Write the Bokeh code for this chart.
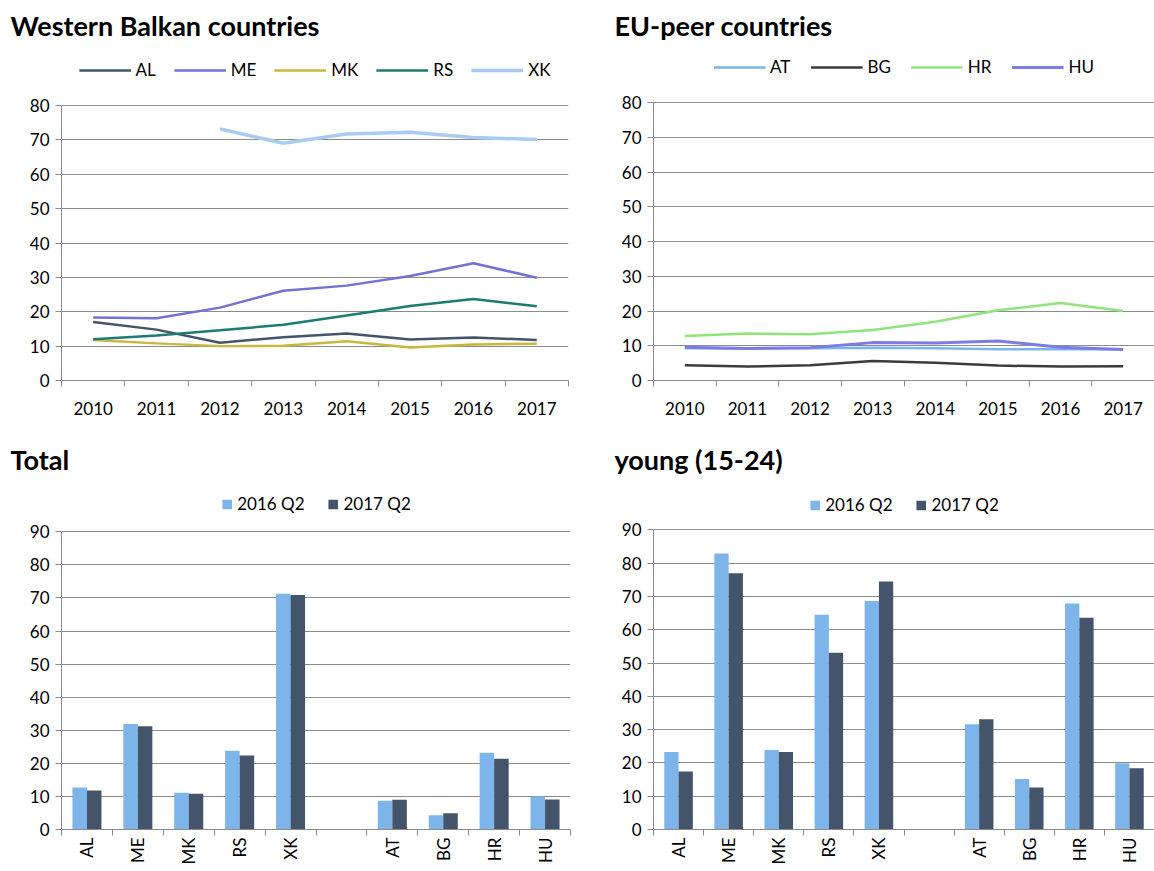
import math
from bokeh.plotting import figure
from bokeh.models import Range1d, FixedTicker, Legend, LegendItem
from bokeh.layouts import column, row
from bokeh.embed import file_html
from bokeh.resources import INLINE

FONT = "Lato"
NAN = float("nan")

years = ["2010", "2011", "2012", "2013", "2014", "2015", "2016", "2017"]

wb_names = ["AL", "ME", "MK", "RS", "XK"]
wb_AL = [17.0, 14.8, 11.0, 12.6, 13.7, 11.9, 12.5, 11.8]
wb_ME = [18.3, 18.1, 21.2, 26.1, 27.6, 30.4, 34.1, 29.9]
wb_MK = [11.8, 10.8, 10.0, 10.1, 11.4, 9.6, 10.5, 10.7]
wb_RS = [12.0, 13.1, 14.6, 16.2, 18.9, 21.7, 23.7, 21.6]
wb_XK = [NAN, NAN, 73.2, 69.0, 71.7, 72.2, 70.7, 70.1]
wb_colors = ["#44546A", "#7471D4", "#C8B83C", "#1E7B71", "#A9CBF0"]
wb_widths = [2.5, 2.5, 2.5, 2.5, 3.5]

eu_names = ["AT", "BG", "HR", "HU"]
eu_AT = [9.3, 9.2, 9.3, 9.4, 9.3, 9.0, 9.0, 9.0]
eu_BG = [4.4, 4.0, 4.4, 5.6, 5.1, 4.3, 4.0, 4.1]
eu_HR = [12.8, 13.5, 13.3, 14.5, 16.9, 20.2, 22.3, 20.0]
eu_HU = [9.6, 9.2, 9.4, 10.9, 10.8, 11.4, 9.6, 8.9]
eu_colors = ["#7DB4EA", "#3B3B3B", "#90E47C", "#7B7CE4"]
eu_widths = [2.5, 2.5, 2.5, 3.0]

bar_categories = ["AL", "ME", "MK", "RS", "XK", "", "AT", "BG", "HR", "HU"]
total_2016 = [12.7, 31.9, 11.1, 23.8, 71.3, NAN, 8.7, 4.3, 23.2, 10.0]
total_2017 = [11.8, 31.2, 10.8, 22.4, 70.9, NAN, 9.0, 4.9, 21.4, 9.1]
young_2016 = [23.3, 82.9, 23.9, 64.5, 68.6, NAN, 31.6, 15.2, 67.9, 19.9]
young_2017 = [17.4, 77.0, 23.3, 53.1, 74.5, NAN, 33.1, 12.6, 63.6, 18.4]
bar_series = ["2016 Q2", "2017 Q2"]
bar_colors = ["#7DB4EA", "#44546A"]

GRID = "#8C8C8C"
AXIS = "#8C8C8C"


def base_fig(width, height, left, right, top, bottom, head_px, ymax, ystep,
             labels, title, title_offset, vertical):
    # head_px: free space (px) between frame top and the highest gridline,
    # used for the in-frame legend
    plot_px = height - top - bottom - head_px
    y_end = ymax * (1 + head_px / plot_px)
    ncat = len(labels)
    p = figure(width=width, height=height, output_backend="svg", toolbar_location=None,
               x_range=Range1d(0, ncat), y_range=Range1d(0, y_end),
               min_border_left=left, min_border_right=right,
               min_border_top=top, min_border_bottom=bottom)
    p.outline_line_color = None
    p.background_fill_color = "white"
    p.border_fill_color = "white"
    p.xgrid.grid_line_color = None
    p.ygrid.grid_line_color = GRID
    p.ygrid.grid_line_width = 1
    p.yaxis.ticker = FixedTicker(ticks=list(range(0, ymax + 1, ystep)))
    p.yaxis.bounds = (0, ymax)
    p.yaxis.axis_line_color = AXIS
    p.yaxis.major_tick_line_color = AXIS
    p.yaxis.major_tick_out = 6
    p.yaxis.major_tick_in = 0
    p.yaxis.minor_tick_line_color = None
    p.yaxis.major_label_text_font = FONT
    p.yaxis.major_label_text_font_size = "17px"
    p.yaxis.major_label_text_color = "#000000"
    p.yaxis.major_label_standoff = 6
    centers = [i + 0.5 for i in range(ncat)]
    p.xaxis.ticker = FixedTicker(ticks=centers, minor_ticks=list(range(ncat + 1)))
    p.xaxis.major_label_overrides = {c: lab for c, lab in zip(centers, labels)}
    p.xaxis.axis_line_color = AXIS
    p.xaxis.major_tick_line_color = None
    p.xaxis.major_tick_out = 6
    p.xaxis.minor_tick_line_color = AXIS
    p.xaxis.minor_tick_out = 6
    p.xaxis.minor_tick_in = 0
    p.xaxis.major_label_text_font = FONT
    p.xaxis.major_label_text_font_size = "17px"
    p.xaxis.major_label_text_color = "#000000"
    if vertical:
        p.xaxis.major_label_orientation = math.pi / 2
        p.xaxis.major_label_standoff = 2
    else:
        p.xaxis.major_label_standoff = 15
    p.title.text = title
    p.title.align = "left"
    p.title.offset = title_offset
    p.title.standoff = 4
    p.title.text_font = FONT
    p.title.text_font_size = "27px"
    p.title.text_font_style = "bold"
    p.title.text_color = "#000000"
    return p


def make_legend(items, glyph_w, glyph_h, spacing, margin):
    return Legend(items=items, orientation="horizontal", location="top_center",
                  glyph_width=glyph_w, glyph_height=glyph_h, label_standoff=5,
                  spacing=spacing, label_text_font=FONT, label_text_font_size="17px",
                  label_text_color="#000000", border_line_color=None,
                  background_fill_alpha=0, padding=0, margin=margin)


def line_panel(width, left, right, head_px, names, series, colors, widths,
               title, toff, spacing, lmargin):
    p = base_fig(width, 438, left, right, 43, 58, head_px, 80, 10, years, title, toff, False)
    xs = [i + 0.5 for i in range(len(years))]
    items = []
    for name, ys, c, w in zip(names, series, colors, widths):
        r = p.line(xs, ys, line_color=c, line_width=w)
        items.append(LegendItem(label=name, renderers=[r]))
    p.add_layout(make_legend(items, 52, 18, spacing, lmargin), "center")
    return p


def bar_panel(width, left, right, head_px, v16, v17, title, toff, lmargin):
    p = base_fig(width, 433, left, right, 28, 42, head_px, 90, 10, bar_categories, title, toff, True)
    bw = 0.285
    x16 = [i + 0.5 - bw / 2 for i in range(len(bar_categories))]
    x17 = [i + 0.5 + bw / 2 for i in range(len(bar_categories))]
    r1 = p.vbar(x=x16, top=v16, width=bw, fill_color=bar_colors[0], line_color=None)
    r2 = p.vbar(x=x17, top=v17, width=bw, fill_color=bar_colors[1], line_color=None)
    items = [LegendItem(label=bar_series[0], renderers=[r1]),
             LegendItem(label=bar_series[1], renderers=[r2])]
    p.add_layout(make_legend(items, 12, 12, 22, lmargin), "center")
    return p


p1 = line_panel(581, 61, 13, 62, wb_names, [wb_AL, wb_ME, wb_MK, wb_RS, wb_XK],
                wb_colors, wb_widths, "Western Balkan countries", -51, 18, 16)
p2 = line_panel(573, 72, 0, 59, eu_names, [eu_AT, eu_BG, eu_HR, eu_HU],
                eu_colors, eu_widths, "EU-peer countries", -39, 20, 13)
p3 = bar_panel(581, 61, 11, 56, total_2016, total_2017, "Total", -51, 16)
p4 = bar_panel(573, 72, 0, 54, young_2016, young_2017, "young (15-24)", -39, 17)

layout = column(row(p1, p2), row(p3, p4))
open("out.html", "w").write(file_html(layout, INLINE))
